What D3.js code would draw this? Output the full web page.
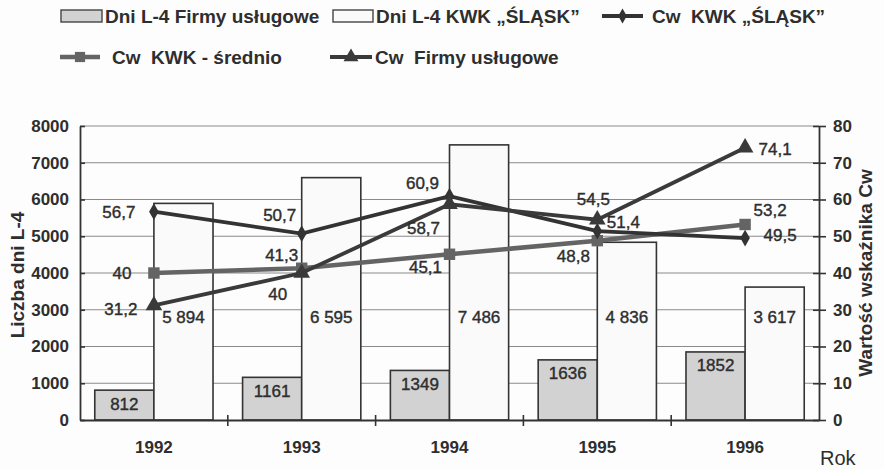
<!DOCTYPE html>
<html>
  <head>
    <meta charset="utf-8" />
    <style>
      body {
        margin: 0;
        background: #fdfdfd;
      }
      svg text {
        font-family: "Liberation Sans", Arial, sans-serif;
        fill: #2e2e2e;
      }
      .tick-label {
        font-size: 17px;
        font-weight: bold;
      }
      .title {
        font-size: 19px;
        font-weight: bold;
      }
      .legend text {
        font-size: 19px;
        font-weight: bold;
        white-space: pre;
      }
      .val {
        font-size: 17px;
        stroke: #2e2e2e;
        stroke-width: 0.4px;
      }
    </style>
  </head>
  <body>
    <svg width="884" height="469"></svg>

    <script src="https://cdn.jsdelivr.net/npm/d3@7"></script>
    <script>
      // data
      let years = ["1992", "1993", "1994", "1995", "1996"];
      let dniFirmy = [812, 1161, 1349, 1636, 1852];
      let dniSlask = [5894, 6595, 7486, 4836, 3617];
      let cwSlask = [56.7, 50.7, 60.9, 51.4, 49.5];
      let cwSrednio = [40, 41.3, 45.1, 48.8, 53.2];
      let cwFirmy = [31.2, 40, 58.7, 54.5, 74.1];
      let leftTicks = [0, 1000, 2000, 3000, 4000, 5000, 6000, 7000, 8000];
      let rightTicks = [0, 10, 20, 30, 40, 50, 60, 70, 80];

      let svg = d3.select("svg");
      let margin = { top: 126, right: 65, bottom: 49, left: 80 };
      let width = 884;
      let height = 469;

      let pl = d3.formatLocale({ decimal: ",", thousands: " ", grouping: [3], currency: ["", ""] });
      let fmtCw = pl.format(".1~f");
      let fmtSlask = pl.format(",d");
      let fmtFirmy = pl.format("d");

      let x = d3
        .scaleBand()
        .domain(years)
        .range([margin.left, width - margin.right])
        .padding(0);

      let xs = d3
        .scaleBand()
        .domain(["firmy", "slask"])
        .range([0, x.bandwidth()])
        .paddingInner(0)
        .paddingOuter(0.25);

      let yL = d3
        .scaleLinear()
        .domain([0, 8000])
        .range([height - margin.bottom, margin.top]);

      let yR = d3
        .scaleLinear()
        .domain([0, 80])
        .range([height - margin.bottom, margin.top]);

      let cx = (d) => x(d) + x.bandwidth() / 2;

      // grid
      svg
        .append("g")
        .selectAll("line")
        .data(leftTicks.slice(1))
        .join("line")
        .attr("x1", margin.left)
        .attr("x2", width - margin.right)
        .attr("y1", (d) => yL(d))
        .attr("y2", (d) => yL(d))
        .attr("stroke", "#8a8a8a")
        .attr("stroke-width", 1);

      // bars
      let bars = svg.append("g");
      bars
        .selectAll(".firmy")
        .data(years)
        .join("rect")
        .attr("class", "firmy")
        .attr("x", (d) => x(d) + xs("firmy"))
        .attr("width", xs.bandwidth())
        .attr("y", (d, i) => yL(dniFirmy[i]))
        .attr("height", (d, i) => yL(0) - yL(dniFirmy[i]))
        .attr("fill", "#d2d2d2")
        .attr("stroke", "#333")
        .attr("stroke-width", 1.6);

      bars
        .selectAll(".slask")
        .data(years)
        .join("rect")
        .attr("class", "slask")
        .attr("x", (d) => x(d) + xs("slask"))
        .attr("width", xs.bandwidth())
        .attr("y", (d, i) => yL(dniSlask[i]))
        .attr("height", (d, i) => yL(0) - yL(dniSlask[i]))
        .attr("fill", "#fafafa")
        .attr("stroke", "#333")
        .attr("stroke-width", 1.6);

      // axes
      let leftAxis = svg
        .append("g")
        .attr("transform", `translate(${margin.left},0)`)
        .call(
          d3.axisLeft(yL).tickValues(leftTicks).tickFormat(d3.format("d"))
            .tickSize(5).tickPadding(6).tickSizeOuter(0)
        );
      leftAxis.selectAll(".tick line").attr("x2", 5);

      let rightAxis = svg
        .append("g")
        .attr("transform", `translate(${width - margin.right},0)`)
        .call(d3.axisRight(yR).tickValues(rightTicks).tickSize(7).tickPadding(7).tickSizeOuter(0));
      rightAxis.selectAll(".tick line").attr("x1", -6);

      let bottomAxis = svg
        .append("g")
        .attr("transform", `translate(0,${height - margin.bottom})`)
        .call(d3.axisBottom(x).tickSize(0).tickPadding(21).tickSizeOuter(0));
      // ticks between categories
      bottomAxis
        .selectAll(".sep")
        .data(years.slice(1))
        .join("line")
        .attr("class", "sep")
        .attr("x1", (d) => x(d))
        .attr("x2", (d) => x(d))
        .attr("y1", -5)
        .attr("y2", 6)
        .attr("stroke", "#333")
        .attr("stroke-width", 1.6);

      [leftAxis, rightAxis, bottomAxis].forEach((a) => {
        a.select(".domain").attr("stroke", "#333").attr("stroke-width", 1.8);
        a.selectAll(".tick line").attr("stroke", "#333").attr("stroke-width", 1.6);
        a.selectAll(".tick text").attr("class", "tick-label").attr("font-size", null).attr("font-family", null);
      });

      // lines
      let series = [
        { key: "sr", values: cwSrednio, color: "#646464", width: 4.5, symbol: d3.symbolSquare, size: 130 },
        { key: "sl", values: cwSlask, color: "#333", width: 3.8, symbol: d3.symbolDiamond, size: 80 },
        { key: "fi", values: cwFirmy, color: "#3a3a3a", width: 3.8, symbol: d3.symbolTriangle, size: 120 },
      ];

      let line = d3
        .line()
        .x((d, i) => cx(years[i]))
        .y((d) => yR(d));

      let lines = svg.append("g");
      series.forEach((s) => {
        lines
          .append("path")
          .attr("d", line(s.values))
          .attr("fill", "none")
          .attr("stroke", s.color)
          .attr("stroke-width", s.width);
        lines
          .append("g")
          .selectAll("path")
          .data(s.values)
          .join("path")
          .attr("d", d3.symbol().type(s.symbol).size(s.size))
          .attr("transform", (d, i) => `translate(${cx(years[i])},${yR(d)})`)
          .attr("fill", s.color);
      });

      // value labels
      let labels = svg.append("g");
      labels
        .selectAll(".lf")
        .data(dniFirmy)
        .join("text")
        .attr("class", "val")
        .attr("x", (d, i) => x(years[i]) + xs("firmy") + xs.bandwidth() / 2)
        .attr("y", (d) => yL(d) + 14)
        .attr("text-anchor", "middle")
        .attr("dominant-baseline", "central")
        .text((d) => fmtFirmy(d));

      labels
        .selectAll(".ls")
        .data(dniSlask)
        .join("text")
        .attr("class", "val")
        .attr("x", (d, i) => x(years[i]) + xs("slask") + xs.bandwidth() / 2)
        .attr("y", yL(2800))
        .attr("text-anchor", "middle")
        .attr("dominant-baseline", "central")
        .text((d) => fmtSlask(d));

      // label offsets for each line point [dx, dy]
      let offsets = {
        sl: [[-35, 1], [-22, -18], [-27, -13], [26, -9], [35, -3]],
        sr: [[-32, 0], [-20, -13], [-24, 13], [-24, 16], [25, -14]],
        fi: [[-33, 4], [-24, 21], [-26, 24], [-4, -20], [30, 2]],
      };
      series.forEach((s) => {
        labels
          .append("g")
          .selectAll("text")
          .data(s.values)
          .join("text")
          .attr("class", "val")
          .attr("x", (d, i) => cx(years[i]) + offsets[s.key][i][0])
          .attr("y", (d, i) => yR(d) + offsets[s.key][i][1])
          .attr("text-anchor", "middle")
          .attr("dominant-baseline", "central")
          .text((d) => fmtCw(d));
      });

      // axis titles
      svg
        .append("text")
        .attr("class", "title")
        .attr("transform", `translate(24,${(margin.top + height - margin.bottom) / 2 + 2}) rotate(-90)`)
        .attr("text-anchor", "middle")
        .text("Liczba dni L-4");

      svg
        .append("text")
        .attr("class", "title")
        .attr("transform", `translate(872,${(margin.top + height - margin.bottom) / 2}) rotate(-90)`)
        .attr("text-anchor", "middle")
        .text("Wartość wskaźnika Cw");

      svg
        .append("text")
        .attr("x", 820)
        .attr("y", 465)
        .attr("font-size", "20px")
        .text("Rok");

      // legend
      let legend = svg.append("g").attr("class", "legend");
      let r1 = 16;
      let r2 = 57;
      legend.append("rect").attr("x", 61).attr("y", r1 - 6).attr("width", 41).attr("height", 12)
        .attr("fill", "#d2d2d2").attr("stroke", "#444").attr("stroke-width", 1.4);
      legend.append("text").attr("x", 105).attr("y", r1).attr("dominant-baseline", "central")
        .text("Dni L-4 Firmy usługowe");
      legend.append("rect").attr("x", 333).attr("y", r1 - 6).attr("width", 40).attr("height", 12)
        .attr("fill", "#fafafa").attr("stroke", "#444").attr("stroke-width", 1.4);
      legend.append("text").attr("x", 376).attr("y", r1).attr("dominant-baseline", "central")
        .text("Dni L-4 KWK „ŚLĄSK”");

      let legendLines = [
        { s: series[1], x1: 602, x2: 643, y: r1, tx: 652, label: "Cw  KWK „ŚLĄSK”" },
        { s: series[0], x1: 60, x2: 100, y: r2, tx: 112, label: "Cw  KWK - średnio" },
        { s: series[2], x1: 330, x2: 372, y: r2, tx: 375, label: "Cw  Firmy usługowe" },
      ];
      legendLines.forEach((l) => {
        legend.append("line").attr("x1", l.x1).attr("x2", l.x2).attr("y1", l.y).attr("y2", l.y)
          .attr("stroke", l.s.color).attr("stroke-width", l.s.width);
        legend.append("path").attr("d", d3.symbol().type(l.s.symbol).size(l.s.size * 0.8))
          .attr("transform", `translate(${(l.x1 + l.x2) / 2},${l.y})`).attr("fill", l.s.color);
        legend.append("text").attr("x", l.tx).attr("y", l.y).attr("dominant-baseline", "central")
          .text(l.label);
      });
    </script>
  </body>
</html>
